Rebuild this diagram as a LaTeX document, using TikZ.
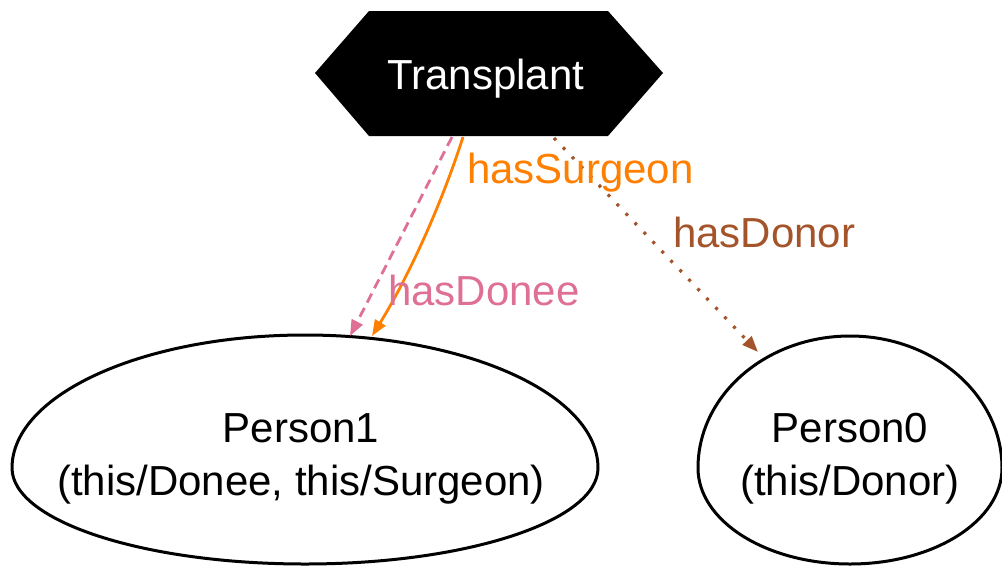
\documentclass[tikz,border=0pt]{standalone}
\usepackage{fontspec}
\setmainfont{Liberation Sans}
\usetikzlibrary{arrows.meta}
\definecolor{surgeoncol}{RGB}{255,127,0}
\definecolor{doneecol}{RGB}{222,112,150}
\definecolor{donorcol}{RGB}{164,84,42}
\begin{document}
\begin{tikzpicture}[x=1pt,y=-1pt,
  lbl/.style={font=\fontsize{42}{53}\selectfont, inner sep=0pt, align=center},
  shapeline/.style={draw=black, line width=3pt},
  rel/.style={line width=2.8pt, -{Triangle[length=16pt,width=12pt]}},
]
\useasboundingbox (0,0) rectangle (1002,566);

% class node: black hexagon
\fill[black] (369,11) -- (608,11) -- (663,73) -- (608,136) -- (369,136) -- (315,73) -- cycle;
\node[lbl, text=white, anchor=base west] (t) at (387,89) {Transplant};

% instance nodes: egg-shaped outlines
\draw[shapeline] (12,468) arc[start angle=180, end angle=360, x radius=293, y radius=133]
                 arc[start angle=0, end angle=180, x radius=293, y radius=96];
\node[lbl, anchor=center] (p1) at (301,459) {Person1\\(this/Donee, this/Surgeon)};

\draw[shapeline] (698,468) arc[start angle=180, end angle=360, x radius=152, y radius=132]
                 arc[start angle=0, end angle=180, x radius=152, y radius=96];
\node[lbl, anchor=center] (p0) at (850,459) {Person0\\(this/Donor)};

% connector end points on the outlines
\coordinate (t-done) at (452,137);
\coordinate (t-surg) at (463,137);
\coordinate (t-donor) at (554,138);
\coordinate (p1-done) at (350,336);
\coordinate (p1-surg) at (372,336);
\coordinate (p0-donor) at (758,352);

% relations
\draw[rel, doneecol, dash pattern=on 10pt off 6pt] (t-done) -- (p1-done);
\draw[rel, surgeoncol] (t-surg) .. controls (442,203) and (409,276) .. (p1-surg);
\draw[rel, donorcol, line width=3.2pt, dash pattern=on 3pt off 10pt] (t-donor) -- (p0-donor);

% relation labels
\node[lbl, text=surgeoncol, anchor=base west] (l-surg) at (467,183) {hasSurgeon};
\node[lbl, text=donorcol, anchor=base west] (l-donor) at (673,247) {hasDonor};
\node[lbl, text=doneecol, anchor=base west] (l-done) at (388,305) {hasDonee};
\end{tikzpicture}
\end{document}
